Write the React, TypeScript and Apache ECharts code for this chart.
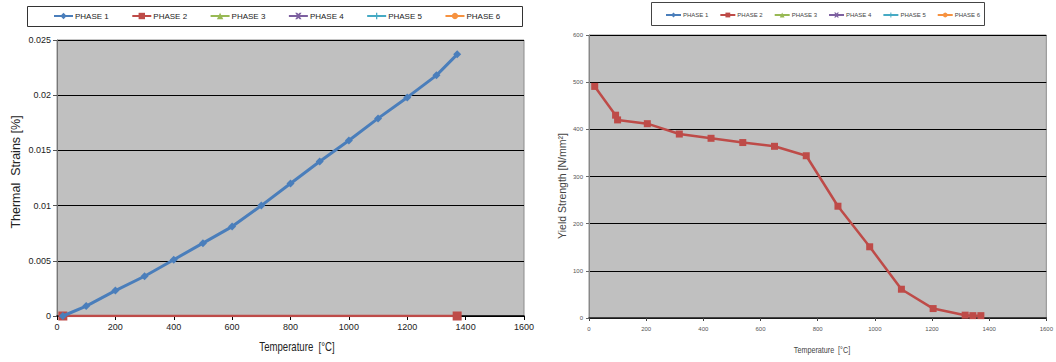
import React, { useEffect, useRef } from "react";
import * as echarts from "echarts";

// Thermal strain vs temperature (left panel)
const strainTemps = [20, 100, 200, 300, 400, 500, 600, 700, 800, 900, 1000, 1100, 1200, 1300, 1371];
const strainPhase1 = [0, 0.0009, 0.0023, 0.0036, 0.0051, 0.0066, 0.0081, 0.01, 0.012, 0.014, 0.0159, 0.0179, 0.0198, 0.0218, 0.0237];
const strainPhase2Temps = [20, 1371];
const strainPhase2 = [0, 0];

// Yield strength vs temperature (right panel)
const yieldTemps = [20, 93, 100, 204, 316, 427, 538, 649, 760, 871, 982, 1093, 1204, 1316, 1343, 1371];
const yieldPhase2 = [491, 430, 420, 412, 390, 381, 372, 364, 344, 237, 151, 61, 20, 6, 5, 5];

const phaseNames = ["PHASE 1", "PHASE 2", "PHASE 3", "PHASE 4", "PHASE 5", "PHASE 6"];
const phaseColors = ["#4a7ebb", "#be4b48", "#98b954", "#7d60a0", "#46aac4", "#f69240"];
const phaseSymbols = [
  "diamond",
  "rect",
  "triangle",
  "path://M0,0L3,0L5,2L7,0L10,0L6.5,5L10,10L7,10L5,8L3,10L0,10L3.5,5Z",
  "path://M4,0h2v4h4v2h-4v4h-2v-4h-4v-2h4z",
  "circle",
];

const xTicks = [0, 1600, 200];
const strainTicks = [0, 0.025, 0.005];
const yieldTicks = [0, 600, 100];

const sans = "'Liberation Sans', Arial, sans-serif";

function pairs(xs: number[], ys: number[]) {
  return xs.map((x, i) => [x, ys[i]]);
}

const plain = (v: number) => String(v);

export default function App() {
  const ref = useRef<HTMLDivElement>(null);

  useEffect(() => {
    if (!ref.current) return;
    const chart = echarts.init(ref.current, undefined, { renderer: "svg" });

    const seriesFor = (gridIndex: number, dataByPhase: (number[][] | null)[], sizes: number[], widths: number[]) =>
      phaseNames.map((name, i) => ({
        type: "line",
        name,
        xAxisIndex: gridIndex,
        yAxisIndex: gridIndex,
        data: dataByPhase[i] || [],
        symbol: phaseSymbols[i],
        symbolSize: sizes[i],
        showAllSymbol: true,
        color: phaseColors[i],
        itemStyle: { color: phaseColors[i] },
        lineStyle: { color: phaseColors[i], width: widths[i] },
        z: 10 - i,
      }));

    const leftSeries = seriesFor(
      0,
      [pairs(strainTemps, strainPhase1), pairs(strainPhase2Temps, strainPhase2), null, null, null, null],
      [8, 9, 6, 6, 6, 6],
      [3, 2.5, 2, 2, 2, 2]
    );
    const rightSeries = seriesFor(
      1,
      [null, pairs(yieldTemps, yieldPhase2), null, null, null, null],
      [6, 7, 6, 6, 6, 6],
      [2, 2.5, 2, 2, 2, 2]
    );

    const axisLabelLeft = { fontFamily: sans, fontSize: 9, color: "#222", margin: 6, formatter: plain };
    const axisLabelRight = { fontFamily: sans, fontSize: 6, color: "#555", margin: 6, formatter: plain };

    chart.setOption({
      animation: false,
      backgroundColor: "#ffffff",
      legend: [
        {
          data: phaseNames,
          left: 53,
          top: 12,
          itemWidth: 19,
          itemHeight: 8,
          itemGap: 22.5,
          selectedMode: false,
          textStyle: { fontFamily: sans, fontSize: 8, color: "#222", padding: [0, 0, 0, -3] },
          padding: 0,
        },
        {
          data: phaseNames,
          left: 665,
          top: 12,
          itemWidth: 15,
          itemHeight: 6,
          itemGap: 11,
          selectedMode: false,
          textStyle: { fontFamily: sans, fontSize: 6, color: "#444", padding: [0, 0, 0, -3] },
          padding: 0,
        },
      ],
      grid: [
        {
          left: 57,
          right: 1056 - 524,
          top: 40,
          bottom: 362 - 316,
          show: true,
          backgroundColor: "#c0c0c0",
          borderColor: "#8c8c8c",
          borderWidth: 1,
        },
        {
          left: 589,
          right: 1056 - 1048,
          top: 35,
          bottom: 362 - 318,
          show: true,
          backgroundColor: "#c0c0c0",
          borderColor: "#8c8c8c",
          borderWidth: 1,
        },
      ],
      xAxis: [
        {
          type: "value",
          gridIndex: 0,
          min: xTicks[0],
          max: xTicks[1],
          interval: xTicks[2],
          axisLine: { show: true, lineStyle: { color: "#000", width: 1.5 } },
          axisTick: { show: true, inside: false, length: 4, lineStyle: { color: "#000" } },
          axisLabel: axisLabelLeft,
          splitLine: { show: false },
        },
        {
          type: "value",
          gridIndex: 1,
          min: xTicks[0],
          max: xTicks[1],
          interval: xTicks[2],
          axisLine: { show: true, lineStyle: { color: "#222", width: 1.5 } },
          axisTick: { show: true, inside: false, length: 3, lineStyle: { color: "#444" } },
          axisLabel: { ...axisLabelRight, margin: 8 },
          splitLine: { show: false },
        },
      ],
      yAxis: [
        {
          type: "value",
          gridIndex: 0,
          min: strainTicks[0],
          max: strainTicks[1],
          interval: strainTicks[2],
          axisLine: { show: true, lineStyle: { color: "#777" } },
          axisTick: { show: true, inside: false, length: 4, lineStyle: { color: "#555" } },
          axisLabel: axisLabelLeft,
          splitLine: { show: true, lineStyle: { color: "#000", width: 1 } },
        },
        {
          type: "value",
          gridIndex: 1,
          min: yieldTicks[0],
          max: yieldTicks[1],
          interval: yieldTicks[2],
          axisLine: { show: true, lineStyle: { color: "#888" } },
          axisTick: { show: true, inside: false, length: 3, lineStyle: { color: "#666" } },
          axisLabel: axisLabelRight,
          splitLine: { show: true, lineStyle: { color: "#000", width: 1 } },
        },
      ],
      graphic: [
        {
          type: "rect",
          shape: { x: 27.5, y: 6.5, width: 495, height: 20 },
          style: { fill: "none", stroke: "#333", lineWidth: 1 },
          silent: true,
        },
        {
          type: "rect",
          shape: { x: 651.5, y: 2.5, width: 333, height: 23 },
          style: { fill: "none", stroke: "#444", lineWidth: 1 },
          silent: true,
        },
        {
          type: "text",
          x: 297,
          y: 347,
          scaleX: 0.8,
          style: {
            text: "Temperature  [°C]",
            font: `12px ${sans}`,
            fill: "#222",
            align: "center",
            verticalAlign: "middle",
          },
        },
        {
          type: "text",
          x: 16,
          y: 172,
          rotation: Math.PI / 2,
          style: {
            text: "Thermal  Strains [%]",
            font: `12.5px ${sans}`,
            fill: "#222",
            align: "center",
            verticalAlign: "middle",
          },
        },
        {
          type: "text",
          x: 822,
          y: 350,
          scaleX: 0.8,
          style: {
            text: "Temperature  [°C]",
            font: `9px ${sans}`,
            fill: "#444",
            align: "center",
            verticalAlign: "middle",
          },
        },
        {
          type: "text",
          x: 562,
          y: 186,
          rotation: Math.PI / 2,
          style: {
            text: "Yield Strength [N/mm²]",
            font: `10.5px ${sans}`,
            fill: "#444",
            align: "center",
            verticalAlign: "middle",
          },
        },
      ],
      series: [...leftSeries, ...rightSeries],
    });

    return () => chart.dispose();
  }, []);

  return (
    <div
      ref={ref}
      style={{ position: "fixed", left: 0, top: 0, width: 1056, height: 362 }}
    />
  );
}
